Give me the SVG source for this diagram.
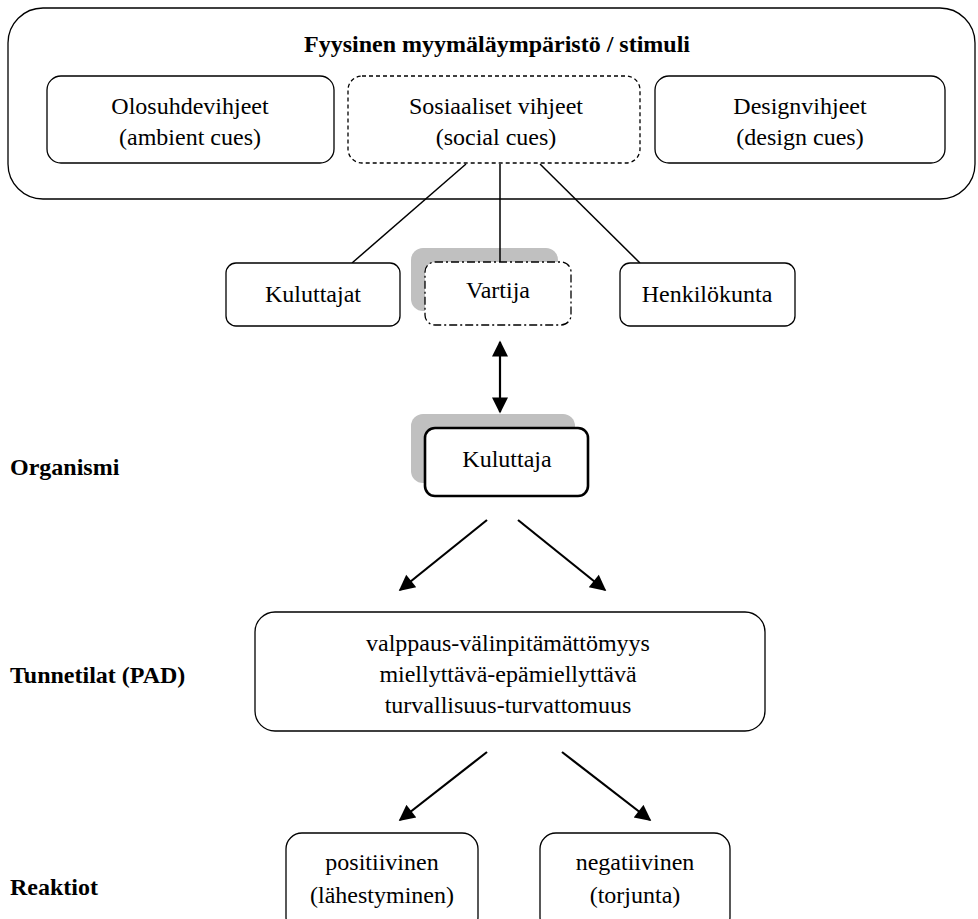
<svg xmlns="http://www.w3.org/2000/svg" width="978" height="919" viewBox="0 0 978 919">
<defs>
<marker id="ah" viewBox="0 0 10 10" refX="9" refY="5" markerWidth="9" markerHeight="9" markerUnits="userSpaceOnUse" orient="auto-start-reverse">
<path d="M0,0 L10,5 L0,10 z" fill="#000"/>
</marker>
<marker id="ah2" viewBox="0 0 10 10" refX="9" refY="5" markerWidth="18" markerHeight="16" markerUnits="userSpaceOnUse" orient="auto-start-reverse">
<path d="M0,0 L10,5 L0,10 z" fill="#000"/>
</marker>
</defs>
<style>
text{font-family:"Liberation Serif","Times New Roman",serif;font-size:24px;fill:#000;text-anchor:middle}
.b{font-weight:bold}
.l{text-anchor:start}
.box{fill:#fff;stroke:#000;stroke-width:1.3}
.dash{fill:#fff;stroke:#000;stroke-width:1.3;stroke-dasharray:4 3}
.dd{fill:#fff;stroke:#000;stroke-width:1.3;stroke-dasharray:8 3 2 3}
.sh{fill:#c0c0c0;stroke:none}
.ln{stroke:#000;stroke-width:1.5;fill:none}
.ar{stroke:#000;stroke-width:2.2;fill:none}
</style>
<rect width="978" height="919" fill="#fff"/>

<g id="stimuli">
<rect class="box" x="8" y="8" width="967" height="191" rx="35"/>
<text class="b" x="497" y="52">Fyysinen myymäläympäristö / stimuli</text>
</g>
<g id="ambient">
<rect class="box" x="47" y="76" width="287" height="87" rx="14"/>
<text x="190" y="114">Olosuhdevihjeet</text>
<text x="190" y="145">(ambient cues)</text>
</g>
<g id="social">
<rect class="dash" x="348" y="76" width="292" height="87" rx="14"/>
<text x="496" y="114">Sosiaaliset vihjeet</text>
<text x="496" y="145">(social cues)</text>
</g>
<g id="design">
<rect class="box" x="655" y="76" width="290" height="87" rx="14"/>
<text x="800" y="114">Designvihjeet</text>
<text x="800" y="145">(design cues)</text>
</g>

<g id="connectors">
<line class="ln" x1="466" y1="164" x2="352" y2="263"/>
<line class="ln" x1="500" y1="164" x2="500" y2="262"/>
<line class="ln" x1="540" y1="164" x2="640" y2="263"/>
<line class="ar" x1="500" y1="342" x2="500" y2="412" marker-start="url(#ah2)" marker-end="url(#ah2)"/>
<line class="ar" x1="487" y1="520" x2="400" y2="590" marker-end="url(#ah2)"/>
<line class="ar" x1="518" y1="520" x2="605" y2="590" marker-end="url(#ah2)"/>
<line class="ar" x1="487" y1="752" x2="400" y2="820" marker-end="url(#ah2)"/>
<line class="ar" x1="562" y1="752" x2="650" y2="820" marker-end="url(#ah2)"/>
</g>

<g id="kuluttajat">
<rect class="box" x="226" y="263" width="174" height="63" rx="10"/>
<text x="313" y="302">Kuluttajat</text>
</g>
<g id="vartija">
<rect class="sh" x="411" y="248" width="147" height="63" rx="12"/>
<rect class="dd" x="425" y="262" width="146" height="63" rx="10"/>
<line class="ln" x1="500" y1="248" x2="500" y2="262"/>
<text x="498" y="298">Vartija</text>
</g>
<g id="henkilokunta">
<rect class="box" x="620" y="263" width="175" height="63" rx="10"/>
<text x="707" y="302">Henkilökunta</text>
</g>

<g id="kuluttaja">
<rect class="sh" x="411" y="414" width="164" height="69" rx="12"/>
<rect fill="#fff" stroke="#000" stroke-width="2.6" x="425" y="428" width="163" height="68" rx="10"/>
<text x="507" y="467">Kuluttaja</text>
</g>

<g id="pad">
<rect class="box" x="255" y="612" width="510" height="119" rx="20"/>
<text x="508" y="651">valppaus-välinpitämättömyys</text>
<text x="508" y="682">miellyttävä-epämiellyttävä</text>
<text x="508" y="713">turvallisuus-turvattomuus</text>
</g>

<g id="positiivinen">
<rect class="box" x="286" y="833" width="192" height="100" rx="16"/>
<text x="382" y="870">positiivinen</text>
<text x="382" y="903">(lähestyminen)</text>
</g>
<g id="negatiivinen">
<rect class="box" x="540" y="833" width="190" height="100" rx="16"/>
<text x="635" y="870">negatiivinen</text>
<text x="635" y="903">(torjunta)</text>
</g>

<g id="labels">
<text class="b l" x="10" y="475">Organismi</text>
<text class="b l" x="10" y="683">Tunnetilat (PAD)</text>
<text class="b l" x="10" y="895">Reaktiot</text>
</g>
</svg>
